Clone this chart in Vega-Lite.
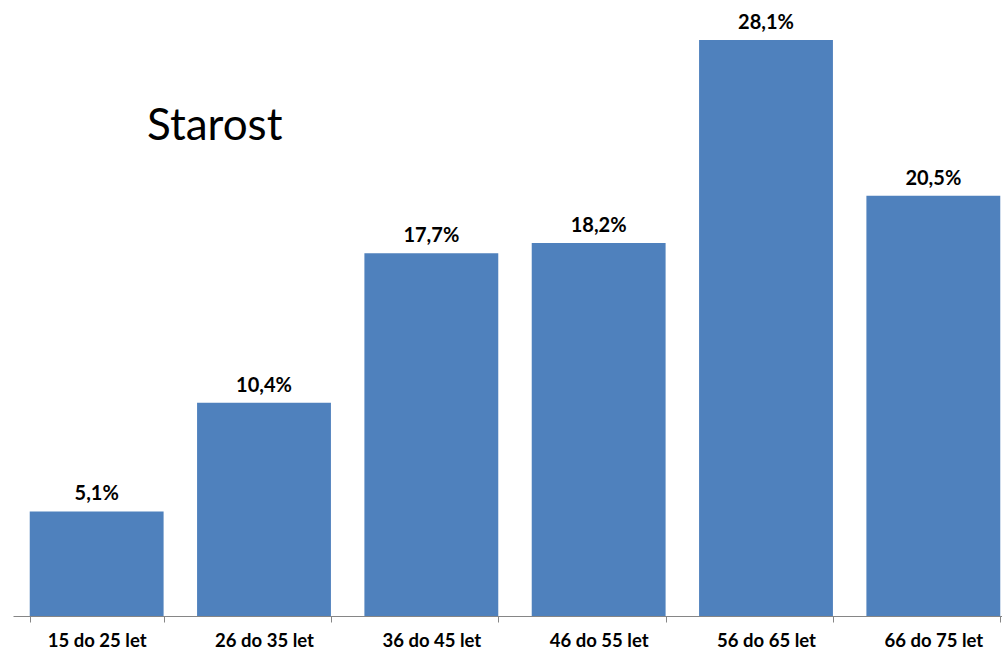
{
  "$schema": "https://vega.github.io/schema/vega-lite/v6.json",
  "width": 1004,
  "height": 615,
  "autosize": {"type": "none"},
  "padding": {"left": 13, "top": 1, "right": 0, "bottom": 37},
  "config": {
    "view": {"stroke": null},
    "font": "Lato",
    "locale": {
      "number": {"decimal": ",", "thousands": " ", "grouping": [3], "currency": ["", " Kč"], "percent": "%"}
    }
  },
  "title": {
    "text": "Starost",
    "anchor": "start",
    "frame": "group",
    "orient": "top",
    "offset": -183,
    "baseline": "alphabetic",
    "dx": 134,
    "font": "Lato",
    "fontSize": 44,
    "fontWeight": "normal",
    "color": "#000000"
  },
  "data": {
    "values": [
      {"vek": "15 do 25 let", "podil": 0.051},
      {"vek": "26 do 35 let", "podil": 0.104},
      {"vek": "36 do 45 let", "podil": 0.177},
      {"vek": "46 do 55 let", "podil": 0.182},
      {"vek": "56 do 65 let", "podil": 0.281},
      {"vek": "66 do 75 let", "podil": 0.205}
    ]
  },
  "encoding": {
    "x": {
      "field": "vek",
      "type": "nominal",
      "sort": null,
      "title": null,
      "scale": {"paddingInner": 0.2, "paddingOuter": 0.1},
      "axis": {
        "labelAngle": 0,
        "labelFont": "Lato",
        "labelFontSize": 18.5,
        "labelFontWeight": "bold",
        "labelColor": "#000000",
        "labelPadding": 9,
        "tickBand": "extent",
        "tickSize": 6,
        "tickColor": "#868686",
        "domainColor": "#868686",
        "grid": false
      }
    },
    "y": {
      "field": "podil",
      "type": "quantitative",
      "scale": {"domain": [0, 0.3]},
      "axis": null
    }
  },
  "layer": [
    {"mark": {"type": "bar", "color": "#4F81BD"}},
    {
      "mark": {"type": "text", "dy": -11, "baseline": "alphabetic", "font": "Lato", "fontSize": 20, "fontWeight": "bold", "color": "#000000"},
      "encoding": {"text": {"field": "podil", "format": ".1%"}}
    }
  ]
}
